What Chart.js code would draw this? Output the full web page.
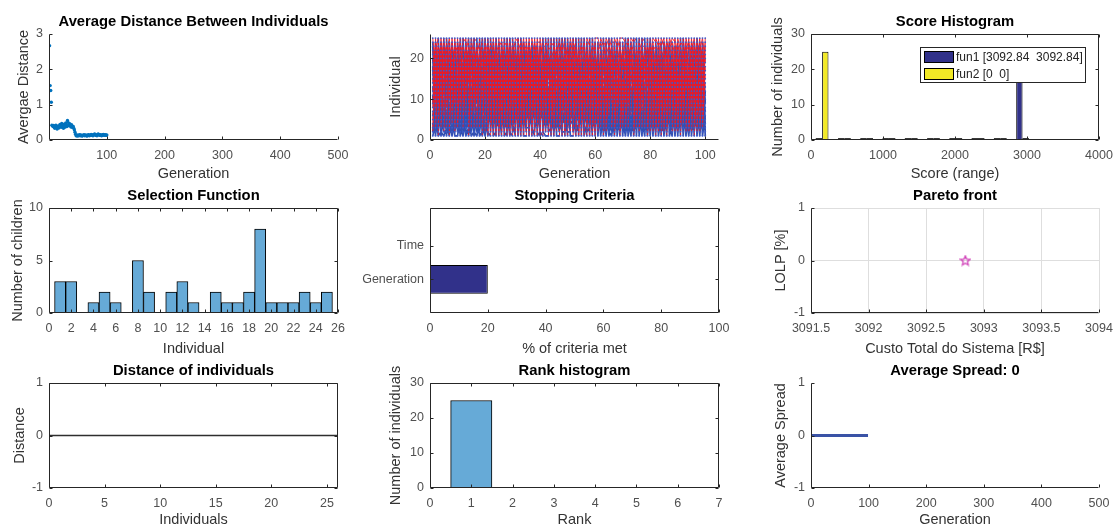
<!DOCTYPE html>
<html>
<head>
<meta charset="utf-8">
<script src="https://cdn.jsdelivr.net/npm/chart.js@4.4.1/dist/chart.umd.min.js"></script>
<style>
  body { margin: 0; background: #fff; }
  #fig { position: relative; width: 1116px; height: 529px; }
  #fig canvas { position: absolute; left: 0; top: 0; }
</style>
</head>
<body>
<div id="fig">
  <canvas id="c1" width="1116" height="529"></canvas>
  <canvas id="c2" width="1116" height="529"></canvas>
  <canvas id="c3" width="1116" height="529"></canvas>
  <canvas id="c4" width="1116" height="529"></canvas>
  <canvas id="c5" width="1116" height="529"></canvas>
  <canvas id="c6" width="1116" height="529"></canvas>
  <canvas id="c7" width="1116" height="529"></canvas>
  <canvas id="c8" width="1116" height="529"></canvas>
  <canvas id="c9" width="1116" height="529"></canvas>
</div>
<script>
// ---- data ----

// Average distance between individuals, one value per generation (1..100)
const avgDistance = [
  2.67, 1.54, 1.40, 1.07,
  0.42, 0.40, 0.38, 0.41, 0.36, 0.33, 0.39, 0.42, 0.35, 0.31,
  0.37, 0.40, 0.34, 0.38, 0.44, 0.41, 0.36, 0.47, 0.43, 0.39,
  0.33, 0.45, 0.40, 0.37, 0.48, 0.42, 0.38, 0.55, 0.50, 0.44,
  0.40, 0.46, 0.41, 0.37, 0.43, 0.39, 0.35, 0.38, 0.33, 0.28,
  0.22, 0.16,
  0.12, 0.13, 0.11, 0.14, 0.12, 0.13, 0.15, 0.12, 0.14, 0.13,
  0.11, 0.12, 0.14, 0.13, 0.15, 0.12, 0.13, 0.14, 0.12, 0.11,
  0.13, 0.15, 0.14, 0.12, 0.13, 0.14, 0.16, 0.15, 0.13, 0.12,
  0.14, 0.16, 0.17, 0.15, 0.13, 0.14, 0.12, 0.15, 0.17, 0.16,
  0.14, 0.13, 0.15, 0.14, 0.12, 0.13, 0.15, 0.16, 0.14, 0.13,
  0.15, 0.14, 0.13, 0.14
];
const avgDistTicksX = [100, 200, 300, 400, 500];
const avgDistTicksY = [0, 1, 2, 3];

// Genealogy: one string per generation, letter k = parent index (a = 1) of child k+1
const popSize = 25;
const mutationChildren = 12; // first children drawn blue, the rest (crossover) red
const genealogyParents = [
  "kdrawgmbtfxjoecvyhlpisnqb", "fqbjxdlaugmsrcwykenhoptiv", "oarhvcelmbyjgtkxdqwfnsuai",
  "bmgtxkaqefrlvdhyowjcupins", "jwaeohcrlygdbvmtsqkxnfuph", "dgqlbvsafkeyhjxcortnmwpiu",
  "hbxeamtrdjogwlfykvcqsnuaj", "rcjagkuvbxeolhdmytqwfsnig", "alnfsbqhcexgmykdrjtovwuib",
  "gvdmaopkbjtxesyrhclqfwnud", "cyhbtlfaowjdmrkxgepvsqiun", "mebxaskgdqvyfhotrjlwcpnyi",
  "tpacjghxdlbemsyvqnfwkroju", "ekvhabqyrmdgtxcoljswnfpia", "lagwdtbkmyhxroeqjvsfnicpu",
  "bsfmkeadxoyqtgvhclwrjnipx", "hndaylcmrbtfexgwqskopjvuc", "qamftkbjygdxhelsovwrcnupt",
  "fxbkaodrhvgylmtcqewsjnpam", "sdhcabyklfgmxtoprevwjqnub", "bqnsiplhyvceojxftbmgwardk",
  "vitpohnekywcrsmgualdxjbqf", "iausnfwqdxktgjybmlecvhrao", "snipucjwoyhdvlrfeqakxtgmb",
  "hpufnxkqstmvbdgylrchoeawj", "uipwmntrocxjhyekfasvblqgd", "jaunsqcvkyflwgojdrtmaexbh",
  "ginsfwqtymdhloexbvukgajcr", "biuwvotjrdkymgxechqbsfnla", "dunwfqlchrysextjbkpoamdvg",
  "nuiqsvpegxkrmdjwoafltbhyc", "iynpcwljrtohfyvqdgksaxbem", "ujorkwfnqvysmebldxhgjcapt",
  "aipfnwsjlocxtgdmryqbahvke", "upcinfsvjqeorxhymkbtdwgal", "xpinjrwlchvgtqyoxdaekmfsb",
  "cuvjpoksqwgxeftbrmclyadnh", "tpuncrwvoslehxdgyjbktfmaq", "mapnjsweqctmlygvhrdoakbxf",
  "bunqjwverpotxmgflkybachds", "btfxjoecvyhlpisnqbkdrawgm", "augmsrcwykenhoptivfqbjxdl",
  "lmbyjgtkxdqwfnsuaioarhvce", "qefrlvdhyowjcupinsbmgtxka", "rlygdbvmtsqkxnfuphjwaeohc",
  "afkeyhjxcortnmwpiudgqlbvs", "rdjogwlfykvcqsnuajhbxeamt", "vbxeolhdmytqwfsnigrcjagku",
  "hcexgmykdrjtovwuibalnfsbq", "kbjtxesyrhclqfwnudgvdmaop", "aowjdmrkxgepvsqiuncyhbtlf",
  "gdqvyfhotrjlwcpnyimebxask", "xdlbemsyvqnfwkrojutpacjgh", "yrmdgtxcoljswnfpiaekvhabq",
  "kmyhxroeqjvsfnicpulagwdtb", "dxoyqtgvhclwrjnipxbsfmkea", "mrbtfexgwqskopjvuchndaylc",
  "jygdxhelsovwrcnuptqamftkb", "rhvgylmtcqewsjnpamfxbkaod", "klfgmxtoprevwjqnubsdhcaby",
  "ojxftbmgwardkbqnsiplhyvce", "rsmgualdxjbqfvitpohnekywc", "gjybmlecvhraoiausnfwqdxkt",
  "vlrfeqakxtgmbsnipucjwoyhd", "bdgylrchoeawjhpufnxkqstmv", "hyekfasvblqgduipwmntrocxj",
  "wgojdrtmaexbhjaunsqcvkyfl", "loexbvukgajcrginsfwqtymdh", "mgxechqbsfnlabiuwvotjrdky",
  "extjbkpoamdvgdunwfqlchrys", "mdjwoafltbhycnuiqsvpegxkr", "fyvqdgksaxbemiynpcwljrtoh",
  "mebldxhgjcaptujorkwfnqvys", "tgdmryqbahvkeaipfnwsjlocx", "rxhymkbtdwgalupcinfsvjqeo",
  "tqyoxdaekmfsbxpinjrwlchvg", "eftbrmclyadnhcuvjpoksqwgx", "hxdgyjbktfmaqtpuncrwvosle",
  "lygvhrdoakbxfmapnjsweqctm", "xmgflkybachdsbunqjwverpot", "lpisnqbkdrawgmbtfxjoecvyh",
  "nhoptivfqbjxdlaugmsrcwyke", "wfnsuaioarhvcelmbyjgtkxdq", "jcupinsbmgtxkaqefrlvdhyow",
  "kxnfuphjwaeohcrlygdbvmtsq", "tnmwpiudgqlbvsafkeyhjxcor", "cqsnuajhbxeamtrdjogwlfykv",
  "qwfsnigrcjagkuvbxeolhdmyt", "tovwuibalnfsbqhcexgmykdrj", "lqfwnudgvdmaopkbjtxesyrhc",
  "pvsqiuncyhbtlfaowjdmrkxge", "lwcpnyimebxaskgdqvyfhotrj", "fwkrojutpacjghxdlbemsyvqn",
  "swnfpiaekvhabqyrmdgtxcolj", "sfnicpulagwdtbkmyhxroeqjv", "wrjnipxbsfmkeadxoyqtgvhcl",
  "kopjvuchndaylcmrbtfexgwqs", "wrcnuptqamftkbjygdxhelsov", "wsjnpamfxbkaodrhvgylmtcqe"
];
const genTicksX = [0, 20, 40, 60, 80, 100];
const genTicksY = [0, 10, 20];

// Score histogram (10 bins over the score range)
const scoreBinCenters = [154.6, 463.9, 773.2, 1082.5, 1391.8, 1701.1, 2010.4, 2319.7, 2629.0, 2938.2];
const fun1Counts = [0, 0, 0, 0, 0, 0, 0, 0, 0, 25];
const fun2Counts = [25, 0, 0, 0, 0, 0, 0, 0, 0, 0];
const scoreFunNames = ['fun1', 'fun2'];
const scoreRanges = [[3092.84, 3092.84], [0, 0]];
const scoreTicksX = [0, 1000, 2000, 3000, 4000];
const scoreTicksY = [0, 10, 20, 30];

// Selection function
const selectionIndividuals = [1, 2, 3, 4, 5, 6, 7, 8, 9, 10, 11, 12, 13, 14, 15, 16, 17, 18, 19, 20, 21, 22, 23, 24, 25];
const selectionChildren = [3, 3, 0, 1, 2, 1, 0, 5, 2, 0, 2, 3, 1, 0, 2, 1, 1, 2, 8, 1, 1, 1, 2, 1, 2];
const selTicksX = [0, 2, 4, 6, 8, 10, 12, 14, 16, 18, 20, 22, 24, 26];
const selTicksY = [0, 5, 10];

// Stopping criteria
const stopCriteria = ['Generation', 'Time'];
const stopPercent = [20, 0];
const stopTicksX = [0, 20, 40, 60, 80, 100];

// Pareto front
const paretoCost = [3092.84];
const paretoLolp = [0];
const paretoTicksX = [3091.5, 3092, 3092.5, 3093, 3093.5, 3094];
const unitTicksY = [-1, 0, 1];

// Distance of individuals
const distIndividuals = [0, 1, 2, 3, 4, 5, 6, 7, 8, 9, 10, 11, 12, 13, 14, 15, 16, 17, 18, 19, 20, 21, 22, 23, 24, 25, 26];
const distValues = [0, 0, 0, 0, 0, 0, 0, 0, 0, 0, 0, 0, 0, 0, 0, 0, 0, 0, 0, 0, 0, 0, 0, 0, 0, 0, 0];
const distTicksX = [0, 5, 10, 15, 20, 25];

// Rank histogram
const ranks = [1, 2, 3, 4, 5, 6];
const rankCounts = [25, 0, 0, 0, 0, 0];
const rankTicksX = [0, 1, 2, 3, 4, 5, 6, 7];
const rankTicksY = [0, 10, 20, 30];

// Average spread, one value per generation (0..100)
const spreadValues = [
  0, 0, 0, 0, 0, 0, 0, 0, 0, 0,
  0, 0, 0, 0, 0, 0, 0, 0, 0, 0,
  0, 0, 0, 0, 0, 0, 0, 0, 0, 0,
  0, 0, 0, 0, 0, 0, 0, 0, 0, 0,
  0, 0, 0, 0, 0, 0, 0, 0, 0, 0,
  0, 0, 0, 0, 0, 0, 0, 0, 0, 0,
  0, 0, 0, 0, 0, 0, 0, 0, 0, 0,
  0, 0, 0, 0, 0, 0, 0, 0, 0, 0,
  0, 0, 0, 0, 0, 0, 0, 0, 0, 0,
  0, 0, 0, 0, 0, 0, 0, 0, 0, 0,
  0
];
const spreadTicksX = [0, 100, 200, 300, 400, 500];

// ---- look & layout ----
const W = 1116, H = 529;
const FONT = "'Liberation Sans', Arial, Helvetica, sans-serif";
const TICK_COLOR = '#505050';
const LABEL_COLOR = '#333';
const AXIS_COLOR = '#262626';
const HIST_BLUE = '#66aad7';
const NAVY = '#31318a';
const YELLOW = '#f2e926';
const TICK_SIZE = 12.5, LABEL_SIZE = 14.5, TITLE_SIZE = 14.8;

const cols = [{l: 49, r: 338}, {l: 430, r: 719}, {l: 811, r: 1099}];
const rows = [{t: 34, b: 140}, {t: 208, b: 313}, {t: 383, b: 488}];
const xTitleY = [174, 349, 520];
const area = (r, c) => ({l: cols[c].l, r: cols[c].r, t: rows[r].t, b: rows[r].b, row: r});

Chart.defaults.font.family = FONT;
Chart.defaults.animation = false;
Chart.defaults.responsive = false;
Chart.defaults.events = [];
Chart.defaults.plugins.legend.display = false;
Chart.defaults.plugins.tooltip.enabled = false;

// axes lines, inward ticks and bold title, MATLAB style
const matlabFrame = {
  id: 'matlabFrame',
  afterDatasetsDraw(chart, args, o) {
    const {ctx, chartArea: a} = chart;
    const xs = chart.scales.x, ys = chart.scales.y;
    const L = a.left + 0.5, R = a.right - 0.5, T = a.top + 0.5, B = a.bottom - 0.5;
    const tl = 3;
    ctx.save();
    ctx.strokeStyle = AXIS_COLOR;
    ctx.lineWidth = 1;
    ctx.beginPath();
    ctx.moveTo(L, T); ctx.lineTo(L, B); ctx.lineTo(R, B);
    if (o.box) { ctx.lineTo(R, T); ctx.lineTo(L, T); }
    xs.ticks.forEach(t => {
      const px = Math.round(xs.getPixelForValue(t.value)) + 0.5;
      ctx.moveTo(px, B); ctx.lineTo(px, B - tl);
      if (o.box) { ctx.moveTo(px, T); ctx.lineTo(px, T + tl); }
    });
    ys.ticks.forEach(t => {
      const py = Math.round(ys.getPixelForValue(t.value)) + 0.5;
      ctx.moveTo(L, py); ctx.lineTo(L + tl, py);
      if (o.box) { ctx.moveTo(R, py); ctx.lineTo(R - tl, py); }
    });
    ctx.stroke();
    if (o.title) {
      ctx.fillStyle = '#000';
      ctx.font = 'bold ' + TITLE_SIZE + 'px ' + FONT;
      ctx.textAlign = 'center';
      ctx.textBaseline = 'middle';
      ctx.fillText(o.title, (a.left + a.right) / 2, a.top - 12.5);
    }
    ctx.restore();
  }
};
Chart.register(matlabFrame);

function scaleOpts(axis, ar, o) {
  const horiz = axis === 'x';
  const half = LABEL_SIZE * 1.2 / 2;
  return {
    type: 'linear',
    position: horiz ? 'bottom' : 'left',
    min: o.min, max: o.max,
    offset: false,
    grid: {display: !!o.grid, color: '#dedede', lineWidth: 1, drawTicks: false, offset: false},
    border: {display: false},
    ticks: {
      autoSkip: false, maxRotation: 0, minRotation: 0,
      padding: horiz ? 8 : 6,
      color: TICK_COLOR, font: {size: TICK_SIZE},
      callback: o.label || (v => String(v))
    },
    afterBuildTicks: s => { s.ticks = o.ticks.map(v => ({value: v})); },
    afterFit: s => {
      if (horiz) s.height = H - ar.b; else s.width = ar.l;
      s.paddingLeft = s.paddingRight = s.paddingTop = s.paddingBottom = 0;
    },
    title: o.title ? {
      display: true, text: o.title, color: LABEL_COLOR, font: {size: LABEL_SIZE},
      padding: horiz ? {top: 0, bottom: H - xTitleY[ar.row] - half} : {top: o.at - half, bottom: 0}
    } : {display: false}
  };
}

function figure(id, ar, frame, type, data, xo, yo, extra) {
  return new Chart(document.getElementById(id), {
    type,
    data,
    options: Object.assign({
      layout: {padding: {left: 0, top: ar.t, right: W - ar.r, bottom: 0}},
      scales: {x: scaleOpts('x', ar, xo), y: scaleOpts('y', ar, yo)},
      plugins: {matlabFrame: frame}
    }, (extra && extra.options) || {}),
    plugins: (extra && extra.plugins) || []
  });
}

// 1. Average distance between individuals
figure('c1', area(0, 0), {title: 'Average Distance Between Individuals'}, 'scatter', {
  datasets: [{
    data: avgDistance.map((v, i) => ({x: i + 1, y: v})),
    pointRadius: 1.7, pointBorderWidth: 0, backgroundColor: '#0072bd'
  }]
}, {min: 0, max: 500, ticks: avgDistTicksX, title: 'Generation'},
   {min: 0, max: 3, ticks: avgDistTicksY, title: 'Avergae Distance', at: 24});

// 2. Genealogy
const blueLines = [], redLines = [], nodes = [];
genealogyParents.forEach((row, g) => {
  for (let c = 0; c < Math.min(row.length, popSize); c++) {
    const p = row.charCodeAt(c) - 96;
    const seg = [{x: g + 1, y: p}, {x: g + 2, y: c + 1}, {x: g + 2, y: null}];
    (c < mutationChildren ? blueLines : redLines).push(...seg);
  }
});
for (let g = 1; g <= genealogyParents.length + 1; g++) {
  for (let i = 1; i <= popSize; i++) nodes.push({x: g, y: i});
}
figure('c2', area(0, 1), {}, 'scatter', {
  datasets: [
    {data: nodes, pointRadius: 0.9, pointBorderWidth: 0, backgroundColor: 'rgb(60,90,205)'},
    {data: redLines, showLine: true, spanGaps: false, pointRadius: 0, borderWidth: 0.9, borderColor: 'rgb(238,26,34)'},
    {data: blueLines, showLine: true, spanGaps: false, pointRadius: 0, borderWidth: 1.7, borderColor: 'rgb(52,80,176)'}
  ]
}, {min: 0, max: 105, ticks: genTicksX, title: 'Generation'},
   {min: 0, max: 26, ticks: genTicksY, title: 'Individual', at: 396});

// 3. Score histogram
const scoreColors = [NAVY, YELLOW];
const scoreCounts = [fun1Counts, fun2Counts];
const scoreLegend = {
  id: 'scoreLegend',
  afterDraw(chart) {
    const {ctx, chartArea: a} = chart;
    const w = 166, h = 36, x = a.right - 13 - w, y = a.top + 13;
    ctx.save();
    ctx.fillStyle = '#fff';
    ctx.fillRect(x, y, w, h);
    ctx.strokeStyle = AXIS_COLOR;
    ctx.lineWidth = 1;
    ctx.strokeRect(x + 0.5, y + 0.5, w - 1, h - 1);
    ctx.font = '12px ' + FONT;
    ctx.textBaseline = 'middle';
    chart.data.datasets.forEach((ds, i) => {
      const ry = y + 4 + i * 17;
      ctx.fillStyle = scoreColors[i];
      ctx.fillRect(x + 4, ry, 30, 12);
      ctx.strokeStyle = '#000';
      ctx.strokeRect(x + 4.5, ry + 0.5, 29, 11);
      ctx.fillStyle = '#222';
      ctx.fillText(ds.label, x + 36, ry + 6.5);
    });
    ctx.restore();
  }
};
figure('c3', area(0, 2), {box: true, title: 'Score Histogram'}, 'bar', {
  datasets: scoreFunNames.map((name, k) => ({
    label: `${name} [${scoreRanges[k][0]}  ${scoreRanges[k][1]}]`,
    data: scoreBinCenters.map((c, i) => ({x: c, y: scoreCounts[k][i]})),
    backgroundColor: ctx => (ctx.raw && ctx.raw.y === 0) ? '#3a3a3a' : scoreColors[k],
    borderColor: '#000',
    borderWidth: ctx => (ctx.raw && ctx.raw.y === 0) ? 0 : 1,
    borderSkipped: false,
    minBarLength: 2,
    categoryPercentage: 0.571,
    barPercentage: 1
  }))
}, {min: 0, max: 4000, ticks: scoreTicksX, title: 'Score (range)'},
   {min: 0, max: 30, ticks: scoreTicksY, title: 'Number of individuals', at: 778},
   {plugins: [scoreLegend]});

// 4. Selection function
figure('c4', area(1, 0), {box: true, title: 'Selection Function'}, 'bar', {
  datasets: [{
    data: selectionIndividuals.map((ind, i) => ({x: ind, y: selectionChildren[i]})),
    backgroundColor: HIST_BLUE, borderColor: '#000', borderWidth: 1, borderSkipped: false,
    categoryPercentage: 1, barPercentage: 1
  }]
}, {min: 0, max: 26, ticks: selTicksX, title: 'Individual'},
   {min: 0, max: 10, ticks: selTicksY, title: 'Number of children', at: 18});

// 5. Stopping criteria
figure('c5', area(1, 1), {box: true, title: 'Stopping Criteria'}, 'bar', {
  datasets: [{
    data: stopCriteria.map((name, i) => ({x: stopPercent[i], y: i + 1})),
    backgroundColor: NAVY, borderColor: '#000', borderWidth: 1, borderSkipped: false,
    categoryPercentage: 1, barPercentage: 0.85
  }]
}, {min: 0, max: 100, ticks: stopTicksX, title: '% of criteria met'},
   {min: 0, max: 3.125, ticks: [1, 2], label: v => stopCriteria[v - 1]},
   {options: {indexAxis: 'y'}});

// 6. Pareto front
function pentagram(size, color) {
  const c = document.createElement('canvas');
  c.width = c.height = size;
  const g = c.getContext('2d');
  const cx = size / 2, cy = size / 2 + 0.4, R = size / 2 - 1, r = R * 0.45;
  g.beginPath();
  for (let i = 0; i < 10; i++) {
    const ang = -Math.PI / 2 + i * Math.PI / 5;
    const rad = i % 2 ? r : R;
    g.lineTo(cx + rad * Math.cos(ang), cy + rad * Math.sin(ang));
  }
  g.closePath();
  g.strokeStyle = color;
  g.lineWidth = 1.3;
  g.stroke();
  return c;
}
figure('c6', area(1, 2), {title: 'Pareto front'}, 'scatter', {
  datasets: [{
    data: paretoCost.map((v, i) => ({x: v, y: paretoLolp[i]})),
    pointStyle: pentagram(12, '#d040b8'), pointRadius: 6
  }]
}, {min: 3091.5, max: 3094, ticks: paretoTicksX, grid: true, title: 'Custo Total do Sistema [R$]'},
   {min: -1, max: 1, ticks: unitTicksY, grid: true, title: 'LOLP [%]', at: 781});

// 7. Distance of individuals
figure('c7', area(2, 0), {box: true, title: 'Distance of individuals'}, 'scatter', {
  datasets: [{
    data: distIndividuals.map((v, i) => ({x: v, y: distValues[i]})),
    showLine: true, pointRadius: 0, borderWidth: 1.5, borderColor: '#2e2e2e'
  }]
}, {min: 0, max: 26, ticks: distTicksX, title: 'Individuals'},
   {min: -1, max: 1, ticks: unitTicksY, title: 'Distance', at: 20});

// 8. Rank histogram
figure('c8', area(2, 1), {box: true, title: 'Rank histogram'}, 'bar', {
  datasets: [{
    data: ranks.map((r, i) => ({x: r, y: rankCounts[i]})),
    backgroundColor: HIST_BLUE, borderColor: '#000', borderWidth: 1, borderSkipped: false,
    categoryPercentage: 1, barPercentage: 1
  }]
}, {min: 0, max: 7, ticks: rankTicksX, title: 'Rank'},
   {min: 0, max: 30, ticks: rankTicksY, title: 'Number of individuals', at: 396});

// 9. Average spread
figure('c9', area(2, 2), {title: 'Average Spread: 0'}, 'scatter', {
  datasets: [{
    data: spreadValues.map((v, i) => ({x: i, y: v})),
    showLine: true, pointRadius: 0, borderWidth: 3, borderColor: '#3a53a6'
  }]
}, {min: 0, max: 500, ticks: spreadTicksX, title: 'Generation'},
   {min: -1, max: 1, ticks: unitTicksY, title: 'Average Spread', at: 781});
</script>
</body>
</html>
